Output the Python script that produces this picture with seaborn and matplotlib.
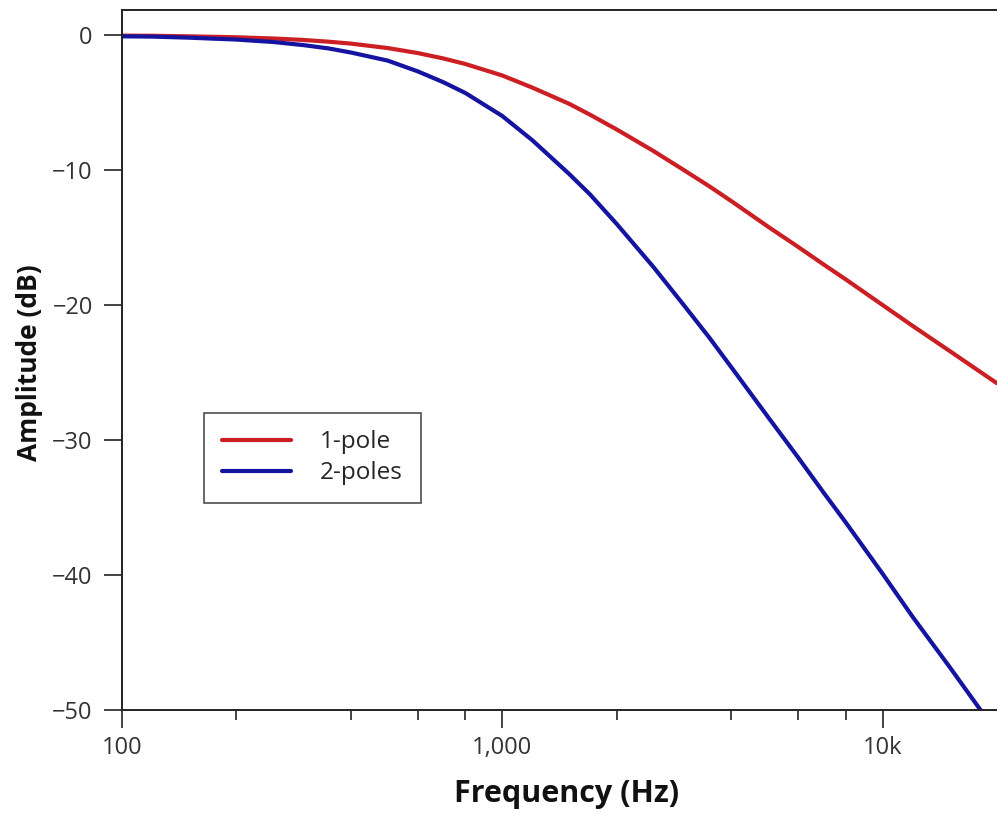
import numpy as np
import pandas as pd
import matplotlib
matplotlib.use("Agg")
import matplotlib.pyplot as plt
import seaborn as sns
from matplotlib.ticker import FixedLocator, FixedFormatter, NullFormatter

# values
freq = [100, 120, 150, 200, 250, 300, 350, 400, 500, 600, 700, 800, 1000,
        1200, 1500, 1700, 2000, 2500, 3000, 3500, 4000, 5000, 6000, 7000,
        8000, 10000, 12000, 15000, 20000]
one_pole = [-0.05, -0.06, -0.1, -0.17, -0.26, -0.37, -0.5, -0.64, -0.97,
            -1.34, -1.74, -2.15, -3.0, -3.9, -5.1, -5.9, -7.0, -8.6, -10.0,
            -11.2, -12.3, -14.2, -15.7, -17.0, -18.1, -20.0, -21.55, -23.4,
            -25.8]
two_poles = [-0.1, -0.12, -0.2, -0.34, -0.52, -0.75, -1.0, -1.3, -1.9,
             -2.7, -3.5, -4.3, -6.0, -7.8, -10.3, -11.8, -14.0, -17.2,
             -20.0, -22.4, -24.6, -28.3, -31.3, -33.9, -36.1, -39.9, -43.1,
             -46.8, -51.7]

x_ticks = [100, 1000, 10000]
x_tick_labels = ["100", "1,000", "10k"]
x_minor = [200, 400, 600, 800, 2000, 4000, 6000, 8000]
y_ticks = [0, -10, -20, -30, -40, -50]
y_tick_labels = ["0", "\u221210", "\u221220", "\u221230", "\u221240", "\u221250"]

df = pd.DataFrame({
    "freq": freq * 2,
    "db": one_pole + two_poles,
    "series": ["1-pole"] * len(freq) + ["2-poles"] * len(freq),
})

sns.set_style("ticks")
plt.rcParams["font.family"] = ["Open Sans", "DejaVu Sans"]

fig = plt.figure(figsize=(9.97, 8.17), dpi=100)
ax = fig.add_axes([122 / 997, 1 - 710 / 817, 1 - 122 / 997, 700 / 817])

sns.lineplot(data=df, x="freq", y="db", hue="series",
             palette={"1-pole": "#cc1f24", "2-poles": "#1414a0"},
             linewidth=3, ax=ax)

ax.set_xscale("log")
ax.set_xlim(100, 20000)
ax.set_ylim(-50, 1.85)

ax.xaxis.set_major_locator(FixedLocator(x_ticks))
ax.xaxis.set_major_formatter(FixedFormatter(x_tick_labels))
ax.xaxis.set_minor_locator(FixedLocator(x_minor))
ax.xaxis.set_minor_formatter(NullFormatter())
ax.yaxis.set_major_locator(FixedLocator(y_ticks))
ax.yaxis.set_major_formatter(FixedFormatter(y_tick_labels))

ax.tick_params(axis="both", which="major", length=13, width=1.2,
               labelsize=17, color="#222222", labelcolor="#333333")
ax.tick_params(axis="y", which="major", pad=8)
ax.tick_params(axis="x", which="major", pad=6)
ax.tick_params(axis="x", which="minor", length=7, width=1.2, color="#222222")

for side in ["left", "top", "bottom"]:
    ax.spines[side].set_linewidth(1.4)
    ax.spines[side].set_color("#222222")
ax.spines["right"].set_visible(False)

ax.set_xlabel("Frequency (Hz)", fontsize=22, fontweight="bold", color="#111111")
ax.set_ylabel("Amplitude (dB)", fontsize=19, fontweight="bold", color="#111111")
ax.xaxis.set_label_coords(0.508, -0.098)
ax.yaxis.set_label_coords(-0.090, 0.496)

leg = ax.legend(loc="lower left", bbox_to_anchor=(0.094, 0.296),
                fontsize=17.5, frameon=True, fancybox=False,
                handlelength=2.85, borderpad=0.72, labelspacing=0.28,
                handletextpad=1.2, borderaxespad=0)
leg.get_frame().set_edgecolor("#222222")
leg.get_frame().set_linewidth(1.2)
leg.set_title(None)

fig.savefig("out.png", dpi=100)
